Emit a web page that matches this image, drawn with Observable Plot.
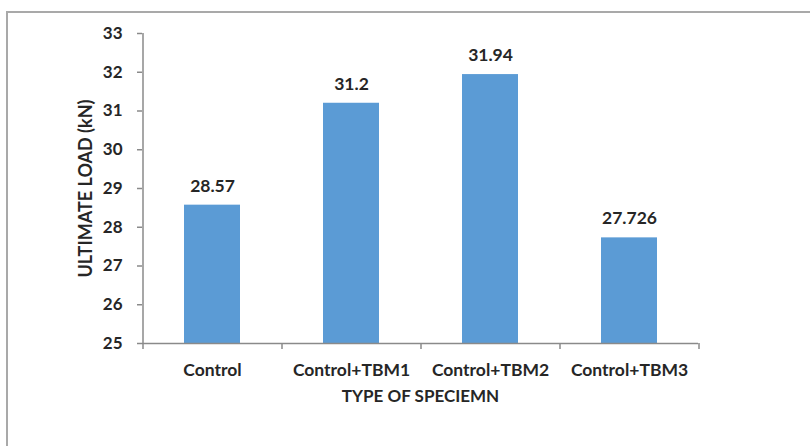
<!DOCTYPE html>
<html>
<head>
<meta charset="utf-8">
<script src="https://cdn.jsdelivr.net/npm/d3@7"></script>
<script src="https://cdn.jsdelivr.net/npm/@observablehq/plot@0.6"></script>
<style>
  html, body { margin: 0; padding: 0; background: #fff; }
  #wrap { position: relative; width: 810px; height: 446px; overflow: hidden; }
  #frame { position: absolute; left: 6px; top: 11px; width: 900px; height: 500px;
           border-left: 2px solid #a9a9a9; border-top: 2px solid #a9a9a9; box-sizing: border-box; }
  #chart { position: absolute; left: 0; top: 0; }
</style>
</head>
<body>
<div id="wrap"><div id="frame"></div><div id="chart"></div></div>
<script>
const categories = ["Control", "Control+TBM1", "Control+TBM2", "Control+TBM3"];
const values = [28.57, 31.2, 31.94, 27.726];
const valueLabels = ["28.57", "31.2", "31.94", "27.726"];
const yTicks = [25, 26, 27, 28, 29, 30, 31, 32, 33];
const yTitle = "ULTIMATE LOAD (kN)";
const xTitle = "TYPE OF SPECIEMN";

const data = categories.map((c, i) => ({cat: c, value: values[i], label: valueLabels[i]}));

const W = 810, H = 446, ML = 142, MR = 112, MT = 33, MB = 103;
const half = (W - ML - MR) / categories.length / 2;
const axisColor = "#8a8a8a";
const textColor = "#262626";

const chart = Plot.plot({
  width: W, height: H,
  marginLeft: ML, marginRight: MR, marginTop: MT, marginBottom: MB,
  style: {fontFamily: "Lato, 'Open Sans', sans-serif", fontSize: "18px", fontWeight: "bold", background: "transparent", color: textColor},
  x: {domain: categories, paddingInner: 0.6, paddingOuter: 0.3, axis: null},
  y: {domain: [25, 33], axis: null},
  marks: [
    Plot.barY(data, {x: "cat", y1: 25, y2: "value", fill: "#5b9bd5"}),
    Plot.ruleY([25], {stroke: axisColor, strokeWidth: 1.5}),
    Plot.ruleX([categories[0]], {x: d => d, dx: -half, y1: 25, y2: 33, stroke: axisColor, strokeWidth: 1.5}),
    Plot.ruleX(categories, {x: d => d, dx: -half, y1: 25, y2: 25, insetBottom: -6, stroke: axisColor, strokeWidth: 1.5}),
    Plot.ruleX([categories[categories.length - 1]], {x: d => d, dx: half, y1: 25, y2: 25, insetBottom: -6, stroke: axisColor, strokeWidth: 1.5}),
    Plot.axisY({ticks: yTicks, tickSize: 5, tickPadding: 15, stroke: axisColor, strokeWidth: 1.5, fill: textColor, label: null, fontSize: 17}),
    Plot.axisX({tickSize: 0, tickPadding: 20, fill: textColor, label: null, fontSize: 17.5}),
    Plot.text(data, {x: "cat", y: "value", text: "label", dy: -19, fill: textColor, fontSize: 17.5}),
    Plot.text([yTitle], {frameAnchor: "left", textAnchor: "middle", lineAnchor: "middle", rotate: -90, dx: -56, fill: textColor, fontSize: 18}),
    Plot.text([xTitle], {frameAnchor: "bottom", dy: 58, fill: textColor, fontSize: 17})
  ]
});
document.getElementById("chart").appendChild(chart);
</script>
</body>
</html>
